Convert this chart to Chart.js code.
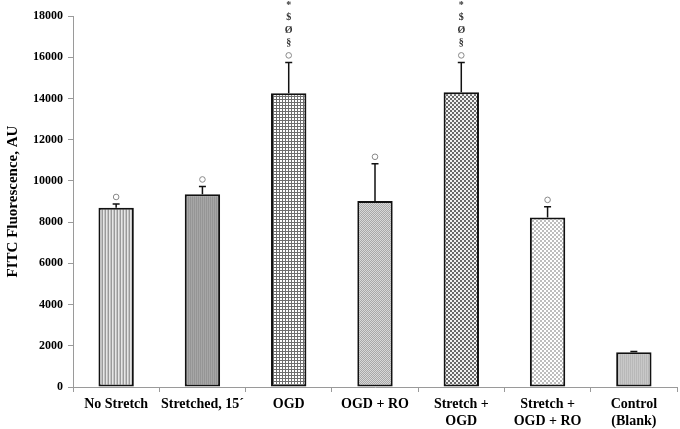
<!DOCTYPE html>
<html>
<head>
<meta charset="utf-8">
<script src="https://cdn.jsdelivr.net/npm/chart.js@4.4.0/dist/chart.umd.min.js"></script>
<style>
  html, body { margin: 0; padding: 0; background: #fff; }
  #wrap { width: 680px; height: 429px; position: relative; }
</style>
</head>
<body>
<div id="wrap"><canvas id="fitcChart"></canvas></div>
<script>
// groups along the x axis
const categories = [
    ['No Stretch'],
    ['Stretched, 15´'],
    ['OGD'],
    ['OGD + RO'],
    ['Stretch +', 'OGD'],
    ['Stretch +', 'OGD + RO'],
    ['Control', '(Blank)']
];
// mean fluorescence per group
const means = [8700, 9350, 14250, 9030, 14300, 8220, 1680];
// upper error (SD) per group
const errors = [180, 380, 1500, 1800, 1450, 520, 40];
// significance marks, bottom to top
const marks = [
    ['○'],
    ['○'],
    ['○', '§', 'Ø', '$', '*'],
    ['○'],
    ['○', '§', 'Ø', '$', '*'],
    ['○'],
    []
];
const yTicks = [0, 2000, 4000, 6000, 8000, 10000, 12000, 14000, 16000, 18000];

function makePattern(w, h, draw) {
    const c = document.createElement('canvas');
    c.width = w;
    c.height = h;
    const g = c.getContext('2d');
    draw(g);
    return document.getElementById('fitcChart').getContext('2d').createPattern(c, 'repeat');
}

const patterns = [
    // vertical light stripes
    makePattern(3, 1, g => {
        g.fillStyle = '#e6e6e6'; g.fillRect(0, 0, 3, 1);
        g.fillStyle = '#9a9a9a'; g.fillRect(0, 0, 1, 1);
        g.fillStyle = '#c4c4c4'; g.fillRect(2, 0, 1, 1);
    }),
    // dark gray fine stripes
    makePattern(2, 1, g => {
        g.fillStyle = '#a6a6a6'; g.fillRect(0, 0, 2, 1);
        g.fillStyle = '#959595'; g.fillRect(0, 0, 1, 1);
    }),
    // white squares on a gray grid
    makePattern(3, 3, g => {
        g.fillStyle = '#6e6e6e'; g.fillRect(0, 0, 3, 3);
        g.fillStyle = '#ffffff'; g.fillRect(1, 1, 2, 2);
    }),
    // gray fine dots
    makePattern(2, 2, g => {
        g.fillStyle = '#a8a8a8'; g.fillRect(0, 0, 2, 2);
        g.fillStyle = '#d8d8d8'; g.fillRect(0, 0, 1, 1);
        g.fillStyle = '#d8d8d8'; g.fillRect(1, 1, 1, 1);
    }),
    // dark checkerboard
    makePattern(4, 4, g => {
        g.fillStyle = '#f2f2f2'; g.fillRect(0, 0, 4, 4);
        g.fillStyle = '#6a6a6a'; g.fillRect(0, 0, 2, 2); g.fillRect(2, 2, 2, 2);
    }),
    // light checkerboard
    makePattern(4, 4, g => {
        g.fillStyle = '#ffffff'; g.fillRect(0, 0, 4, 4);
        g.fillStyle = '#bdbdbd'; g.fillRect(0, 0, 2, 2); g.fillRect(2, 2, 2, 2);
    }),
    // control, light gray stripes
    makePattern(2, 1, g => {
        g.fillStyle = '#c8c8c8'; g.fillRect(0, 0, 2, 1);
        g.fillStyle = '#b8b8b8'; g.fillRect(0, 0, 1, 1);
    })
];

const errorBarPlugin = {
    id: 'errorBars',
    afterDatasetsDraw(chart) {
        const ctx = chart.ctx;
        const y = chart.scales.y;
        const meta = chart.getDatasetMeta(0);
        ctx.save();
        meta.data.forEach((bar, i) => {
            const x = bar.x;
            const top = y.getPixelForValue(means[i]);
            const end = y.getPixelForValue(means[i] + errors[i]);
            ctx.strokeStyle = '#111';
            ctx.lineWidth = 1.5;
            ctx.beginPath();
            ctx.moveTo(x, top);
            ctx.lineTo(x, end);
            ctx.moveTo(x - 3.5, end);
            ctx.lineTo(x + 3.5, end);
            ctx.stroke();

            ctx.textAlign = 'center';
            ctx.textBaseline = 'middle';
            marks[i].forEach((m, k) => {
                const my = end - 7 - k * 12.5;
                if (m === '○') {
                    ctx.strokeStyle = '#888';
                    ctx.lineWidth = 1;
                    ctx.beginPath();
                    ctx.arc(x, my, 2.8, 0, Math.PI * 2);
                    ctx.stroke();
                } else {
                    ctx.fillStyle = '#333';
                    ctx.font = 'bold 10px "Liberation Serif"';
                    ctx.fillText(m, x, my);
                }
            });
        });
        ctx.restore();
    }
};

new Chart(document.getElementById('fitcChart'), {
    type: 'bar',
    data: {
        labels: categories,
        datasets: [{
            data: means,
            backgroundColor: patterns,
            borderColor: '#111',
            borderWidth: 2,
            borderSkipped: false,
            categoryPercentage: 1,
            barPercentage: 0.41
        }]
    },
    options: {
        responsive: true,
        maintainAspectRatio: false,
        animation: false,
        layout: { padding: { top: 16, right: 3, left: 4, bottom: 0 } },
        plugins: {
            legend: { display: false },
            tooltip: { enabled: false }
        },
        scales: {
            x: {
                afterFit: axis => { axis.height = 42; },
                grid: {
                    display: true,
                    offset: true,
                    drawOnChartArea: false,
                    tickLength: 5,
                    color: '#9a9a9a'
                },
                border: { color: '#9a9a9a', width: 1 },
                ticks: {
                    color: '#000',
                    padding: 4,
                    maxRotation: 0,
                    autoSkip: false,
                    font: { family: '"Liberation Serif"', weight: 'bold', size: 14, lineHeight: 1.2 }
                }
            },
            y: {
                min: 0,
                max: 18000,
                afterBuildTicks: axis => {
                    axis.ticks = yTicks.map(v => ({ value: v }));
                },
                grid: {
                    display: true,
                    drawOnChartArea: false,
                    tickLength: 5,
                    color: '#9a9a9a'
                },
                border: { color: '#9a9a9a', width: 1 },
                ticks: {
                    color: '#000',
                    padding: 5,
                    callback: v => String(v),
                    font: { family: '"Liberation Serif"', weight: 'bold', size: 12 }
                },
                title: {
                    display: true,
                    text: 'FITC Fluorescence, AU',
                    color: '#000',
                    padding: { top: 0, bottom: 6 },
                    font: { family: '"Liberation Serif"', weight: 'bold', size: 15 }
                }
            }
        }
    },
    plugins: [errorBarPlugin]
});
</script>
</body>
</html>
